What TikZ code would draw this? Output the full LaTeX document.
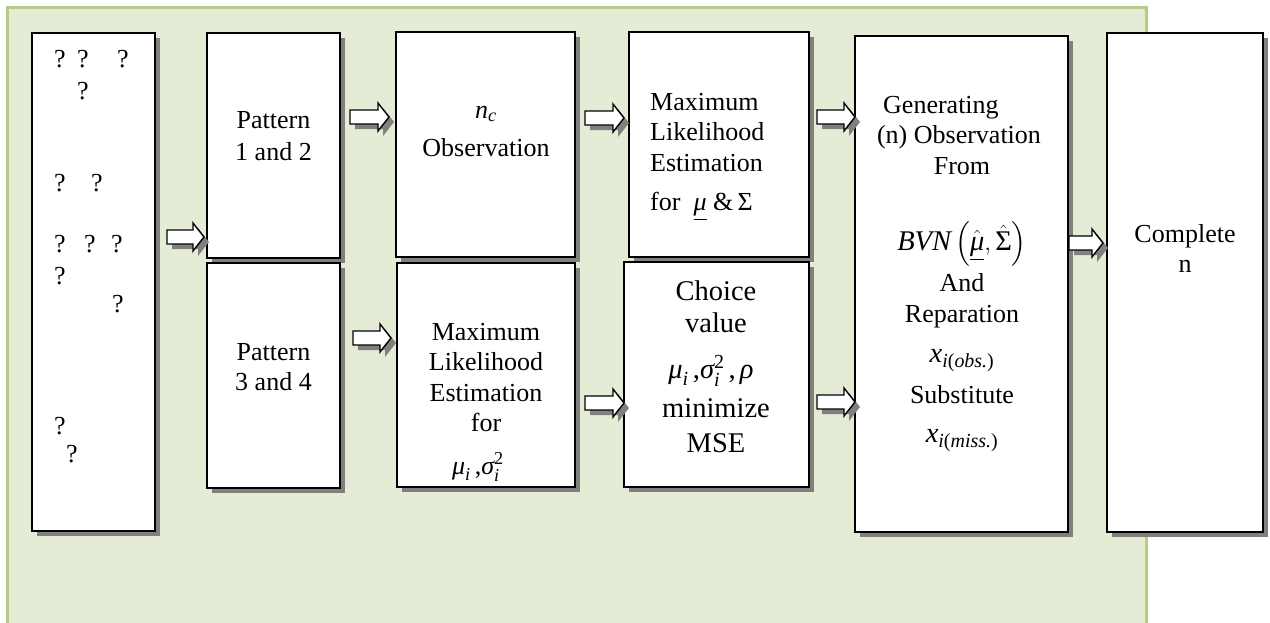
\documentclass[tikz,border=0pt]{standalone}
\usepackage{amsmath}
\usepackage{fontspec}
\setmainfont{Liberation Serif}
\usetikzlibrary{calc,shadows}
\definecolor{bgfill}{RGB}{228,236,214}
\definecolor{bgline}{RGB}{181,204,133}
\definecolor{shad}{RGB}{128,128,128}
\tikzset{
  box/.style={draw=black, line width=1.6pt, fill=white, inner sep=0pt, outer sep=0pt,
    drop shadow={shadow xshift=5pt, shadow yshift=-5pt, fill=shad, opacity=1}},
  barrow/.style={draw=black, line width=1.4pt, fill=white, line join=miter,
    drop shadow={shadow xshift=5pt, shadow yshift=-5pt, fill=shad, opacity=1}},
  txt/.style={anchor=base, inner sep=0pt, font=\fontsize{26}{30}\selectfont},
  txtl/.style={txt, anchor=base west},
  txtb/.style={anchor=base, inner sep=0pt, font=\fontsize{28.5}{32}\selectfont},
}
% #1 source node, #2 target node, #3 y, #4 gap after source, #5 gap before target
\newcommand\blockarrow[5]{%
  \coordinate (s) at ($(#1.east |- 0,#3)+(#4,0)$);
  \coordinate (e) at ($(#2.west |- 0,#3)-(#5,0)$);
  \draw[barrow] let \p1=(s), \p2=(e) in
    (\x1,\y1+7pt) -- (\x2-11pt,\y1+7pt) -- (\x2-11pt,\y1+14pt) -- (\x2,\y1)
    -- (\x2-11pt,\y1-14pt) -- (\x2-11pt,\y1-7pt) -- (\x1,\y1-7pt) -- cycle;
}
\begin{document}
\begin{tikzpicture}[x=1pt,y=-1pt]
\useasboundingbox (0,0) rectangle (1270,622);
% background panel
\fill[bgfill] (7,7) rectangle (1146,640);
\draw[bgline, line width=3pt] (7,640) -- (7,7) -- (1146,7) -- (1146,640);

% boxes
\node[box, minimum width=123pt, minimum height=498pt] (b1) at (93.5,282) {};
\node[box, minimum width=133pt, minimum height=225pt] (p12) at (273.5,145.5) {};
\node[box, minimum width=133pt, minimum height=225pt] (p34) at (273.5,375.5) {};
\node[box, minimum width=179pt, minimum height=225pt] (nc) at (485.5,144.5) {};
\node[box, minimum width=178pt, minimum height=224pt] (mlei) at (486,375) {};
\node[box, minimum width=180pt, minimum height=225pt] (mles) at (719,144.5) {};
\node[box, minimum width=185pt, minimum height=225pt] (choice) at (716.5,374.5) {};
\node[box, minimum width=213pt, minimum height=496pt] (gen) at (961.5,284) {};
\node[box, minimum width=156pt, minimum height=499pt] (comp) at (1185,282.5) {};

% question marks
\node[txt] (q1) at (60,67) {?};
\node[txt] (q2) at (83,67) {?};
\node[txt] (q3) at (123,67) {?};
\node[txt] (q4) at (83,99) {?};
\node[txt] (q5) at (60,191) {?};
\node[txt] (q6) at (97,191) {?};
\node[txt] (q7) at (60,252) {?};
\node[txt] (q8) at (90,252) {?};
\node[txt] (q9) at (117,252) {?};
\node[txt] (q10) at (60,284) {?};
\node[txt] (q11) at (118,312) {?};
\node[txt] (q12) at (60,434) {?};
\node[txt] (q13) at (72,462) {?};

% pattern boxes
\node[txt] (p12a) at (273.5,128) {Pattern};
\node[txt] (p12b) at (273.5,160) {1 and 2};
\node[txt] (p34a) at (273.5,360) {Pattern};
\node[txt] (p34b) at (273.5,390) {3 and 4};

% n_c observation
\node[txt] (nca) at (486,118) {$\textit{n}_{\textit{c}}$};
\node[txt] (ncb) at (486,156) {Observation};

% MLE for mu_i sigma_i^2
\node[txt] (mia) at (486,340) {Maximum};
\node[txt] (mib) at (486,370) {Likelihood};
\node[txt] (mic) at (486,401) {Estimation};
\node[txt] (mid) at (486,431) {for};
\node[txt] (mie) at (478,474) {$\textit{μ}_{\textit{i}}\,\textrm{,}\textit{σ}_{\textit{i}}^{\textrm{2}}$};

% MLE for mu & Sigma
\node[txtl] (msa) at (650,110) {Maximum};
\node[txtl] (msb) at (650,140) {Likelihood};
\node[txtl] (msc) at (650,171) {Estimation};
\node[txtl] (msd) at (650,210) {for\ \ $\underline{\textit{μ}}$ \&\,Σ};

% choice value
\node[txtb] (cha) at (716,300) {Choice};
\node[txtb] (chb) at (716,332) {value};
\node[txtb] (chc) at (711,378) {$\textit{μ}_{\textit{i}}\,\textrm{,}\textit{σ}_{\textit{i}}^{\textrm{2}}\,\textrm{,}\,\textit{ρ}$};
\node[txtb] (chd) at (716,417) {minimize};
\node[txtb] (che) at (716,452) {MSE};

% generating
\node[txtl] (ga) at (883,113) {Generating};
\node[txt] (gb) at (959,143) {(n) Observation};
\node[txt] (gc) at (962,174) {From};
\node[txtb] (gd) at (962,250) {$\textit{BVN}\left(\underline{\hat{\textit{μ}}},\hat{\textrm{Σ}}\right)$};
\node[txt] (ge) at (962,291) {And};
\node[txt] (gf) at (962,322) {Reparation};
\node[txtb] (gg) at (962,362) {$\textit{x}_{\textit{i}\textrm{(}\textit{obs.}\textrm{)}}$};
\node[txt] (gh) at (962,403) {Substitute};
\node[txtb] (gi) at (962,442) {$\textit{x}_{\textit{i}\textrm{(}\textit{miss.}\textrm{)}}$};

% complete
\node[txt] (ca) at (1185,242) {Complete};
\node[txt] (cb) at (1185,272) {n};

% block arrows
\blockarrow{b1}{p12}{237}{12}{3}
\blockarrow{p12}{nc}{117}{10}{7}
\blockarrow{p34}{mlei}{338}{13}{6}
\blockarrow{nc}{mles}{118}{10}{5}
\blockarrow{mlei}{choice}{403}{10}{0}
\blockarrow{mles}{gen}{117}{8}{0}
\blockarrow{choice}{gen}{402}{8}{0}
\blockarrow{gen}{comp}{243}{1}{4}
\end{tikzpicture}
\end{document}
